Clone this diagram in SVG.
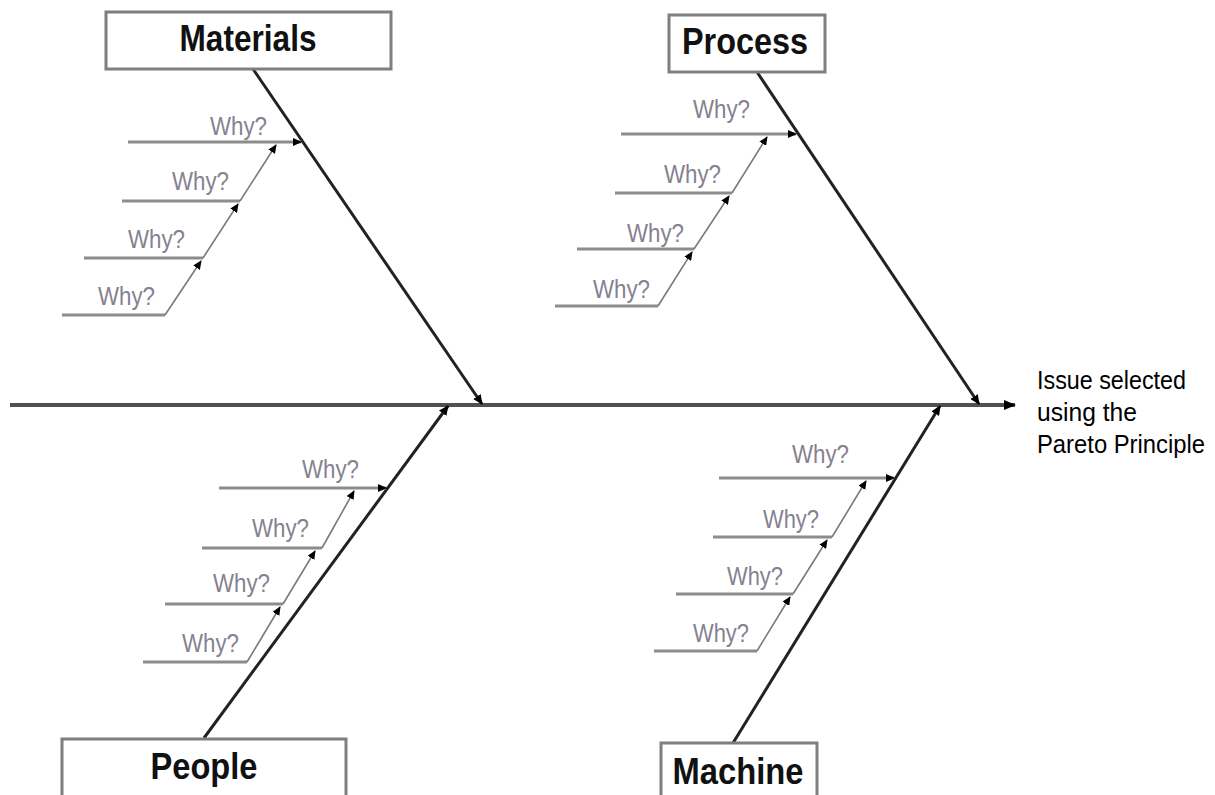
<svg xmlns="http://www.w3.org/2000/svg" width="1215" height="795" viewBox="0 0 1215 795">
  <style>
    .box { fill: #ffffff; stroke: #7f7f7f; stroke-width: 3; }
    .head { font-family: "Liberation Sans", Arial, sans-serif; font-weight: bold; font-size: 37px; fill: #111111; text-anchor: middle; }
    .why { font-family: "Liberation Sans", Arial, sans-serif; font-size: 25px; fill: #85828f; }
    .bone { stroke: #222222; stroke-width: 3; fill: none; }
    .spine { stroke: #505050; stroke-width: 4; fill: none; }
    .rib { stroke: #8c8c8c; stroke-width: 3; fill: none; }
    .step { stroke: #7a7a7a; stroke-width: 1.6; fill: none; }
    .issue { font-family: "Liberation Sans", Arial, sans-serif; font-size: 25px; fill: #000000; }
  </style>
  <defs>
    <marker id="tipBig" markerUnits="userSpaceOnUse" markerWidth="12" markerHeight="10" refX="11" refY="5" orient="auto">
      <path d="M0,0 L12,5 L0,10 z" fill="#000000"/>
    </marker>
    <marker id="tipMid" markerUnits="userSpaceOnUse" markerWidth="10" markerHeight="9" refX="9" refY="4.5" orient="auto">
      <path d="M0,0 L10,4.5 L0,9 z" fill="#000000"/>
    </marker>
    <marker id="tipSmall" markerUnits="userSpaceOnUse" markerWidth="9" markerHeight="8" refX="8" refY="4" orient="auto">
      <path d="M0,0 L9,4 L0,8 z" fill="#000000"/>
    </marker>
  </defs>

  <!-- connectors: spine, category bones, and the why-chains -->
  <g id="connectors">
    <line class="spine" x1="10" y1="405" x2="1015" y2="405" marker-end="url(#tipBig)"/>

    <!-- Materials -->
    <line class="bone" x1="253" y1="69" x2="482" y2="404" marker-end="url(#tipMid)"/>
    <line class="rib" x1="128" y1="142" x2="301" y2="142" marker-end="url(#tipSmall)"/>
    <line class="rib" x1="122" y1="201" x2="240" y2="201"/>
    <line class="rib" x1="84" y1="258" x2="203" y2="258"/>
    <line class="rib" x1="62" y1="315" x2="165" y2="315"/>
    <line class="step" x1="240" y1="201" x2="276" y2="145" marker-end="url(#tipSmall)"/>
    <line class="step" x1="203" y1="258" x2="238" y2="204" marker-end="url(#tipSmall)"/>
    <line class="step" x1="165" y1="315" x2="201" y2="261" marker-end="url(#tipSmall)"/>

    <!-- Process -->
    <line class="bone" x1="757" y1="72" x2="979" y2="404" marker-end="url(#tipMid)"/>
    <line class="rib" x1="621" y1="134" x2="796" y2="134" marker-end="url(#tipSmall)"/>
    <line class="rib" x1="615" y1="193" x2="732" y2="193"/>
    <line class="rib" x1="577" y1="249" x2="694" y2="249"/>
    <line class="rib" x1="555" y1="306" x2="658" y2="306"/>
    <line class="step" x1="732" y1="193" x2="767" y2="137" marker-end="url(#tipSmall)"/>
    <line class="step" x1="694" y1="249" x2="729" y2="196" marker-end="url(#tipSmall)"/>
    <line class="step" x1="658" y1="306" x2="692" y2="252" marker-end="url(#tipSmall)"/>

    <!-- People -->
    <line class="bone" x1="204" y1="738" x2="448" y2="406" marker-end="url(#tipMid)"/>
    <line class="rib" x1="219" y1="488" x2="386" y2="488" marker-end="url(#tipSmall)"/>
    <line class="rib" x1="202" y1="548" x2="322" y2="548"/>
    <line class="rib" x1="165" y1="604" x2="283" y2="604"/>
    <line class="rib" x1="143" y1="662" x2="247" y2="662"/>
    <line class="step" x1="322" y1="548" x2="354" y2="491" marker-end="url(#tipSmall)"/>
    <line class="step" x1="283" y1="604" x2="315" y2="551" marker-end="url(#tipSmall)"/>
    <line class="step" x1="247" y1="662" x2="280" y2="607" marker-end="url(#tipSmall)"/>

    <!-- Machine -->
    <line class="bone" x1="733" y1="743" x2="940" y2="406" marker-end="url(#tipMid)"/>
    <line class="rib" x1="719" y1="478" x2="894" y2="478" marker-end="url(#tipSmall)"/>
    <line class="rib" x1="713" y1="537" x2="832" y2="537"/>
    <line class="rib" x1="676" y1="594" x2="793" y2="594"/>
    <line class="rib" x1="654" y1="651" x2="757" y2="651"/>
    <line class="step" x1="832" y1="537" x2="866" y2="481" marker-end="url(#tipSmall)"/>
    <line class="step" x1="793" y1="594" x2="827" y2="540" marker-end="url(#tipSmall)"/>
    <line class="step" x1="757" y1="651" x2="790" y2="597" marker-end="url(#tipSmall)"/>
  </g>

  <!-- why labels -->
  <g id="why-labels">
    <text class="why" x="210" y="135" textLength="57" lengthAdjust="spacingAndGlyphs">Why?</text>
    <text class="why" x="172" y="190" textLength="57" lengthAdjust="spacingAndGlyphs">Why?</text>
    <text class="why" x="128" y="248" textLength="57" lengthAdjust="spacingAndGlyphs">Why?</text>
    <text class="why" x="98" y="305" textLength="57" lengthAdjust="spacingAndGlyphs">Why?</text>

    <text class="why" x="693" y="118" textLength="57" lengthAdjust="spacingAndGlyphs">Why?</text>
    <text class="why" x="664" y="183" textLength="57" lengthAdjust="spacingAndGlyphs">Why?</text>
    <text class="why" x="627" y="242" textLength="57" lengthAdjust="spacingAndGlyphs">Why?</text>
    <text class="why" x="593" y="298" textLength="57" lengthAdjust="spacingAndGlyphs">Why?</text>

    <text class="why" x="302" y="478" textLength="57" lengthAdjust="spacingAndGlyphs">Why?</text>
    <text class="why" x="252" y="537" textLength="57" lengthAdjust="spacingAndGlyphs">Why?</text>
    <text class="why" x="213" y="592" textLength="57" lengthAdjust="spacingAndGlyphs">Why?</text>
    <text class="why" x="182" y="652" textLength="57" lengthAdjust="spacingAndGlyphs">Why?</text>

    <text class="why" x="792" y="463" textLength="57" lengthAdjust="spacingAndGlyphs">Why?</text>
    <text class="why" x="763" y="528" textLength="56" lengthAdjust="spacingAndGlyphs">Why?</text>
    <text class="why" x="727" y="585" textLength="56" lengthAdjust="spacingAndGlyphs">Why?</text>
    <text class="why" x="693" y="642" textLength="56" lengthAdjust="spacingAndGlyphs">Why?</text>
  </g>

  <!-- category boxes -->
  <g id="materials">
    <rect class="box" x="106" y="12" width="285" height="57"/>
    <text class="head" x="248" y="51" textLength="137" lengthAdjust="spacingAndGlyphs">Materials</text>
  </g>
  <g id="process">
    <rect class="box" x="669" y="15" width="156" height="57"/>
    <text class="head" x="745" y="54" textLength="126" lengthAdjust="spacingAndGlyphs">Process</text>
  </g>
  <g id="people">
    <rect class="box" x="62" y="739" width="284" height="70"/>
    <text class="head" x="204" y="779" textLength="107" lengthAdjust="spacingAndGlyphs">People</text>
  </g>
  <g id="machine">
    <rect class="box" x="661" y="743" width="156" height="70"/>
    <text class="head" x="738" y="784" textLength="131" lengthAdjust="spacingAndGlyphs">Machine</text>
  </g>

  <!-- effect label at the head of the spine -->
  <g id="issue">
    <text class="issue" x="1037" y="389" textLength="149" lengthAdjust="spacingAndGlyphs">Issue selected</text>
    <text class="issue" x="1037" y="421" textLength="100" lengthAdjust="spacingAndGlyphs">using the</text>
    <text class="issue" x="1037" y="453" textLength="168" lengthAdjust="spacingAndGlyphs">Pareto Principle</text>
  </g>
</svg>
